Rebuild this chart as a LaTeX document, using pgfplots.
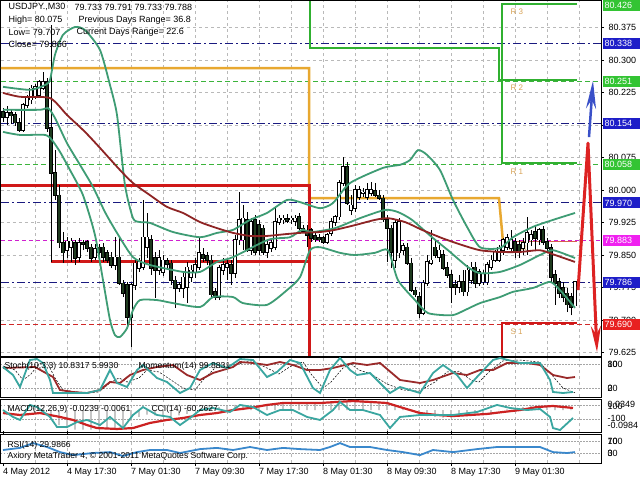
\documentclass[border=0pt]{standalone}
\usepackage{fontspec}
\setmainfont{Liberation Sans}
\usepackage{pgfplots}
\pgfplotsset{compat=1.18}
\usepackage{pgfplotstable}
\usetikzlibrary{arrows.meta}

\definecolor{navyl}{HTML}{1A1A80}
\definecolor{lvlgreen}{HTML}{3CB43C}
\definecolor{lvlmag}{HTML}{D020D0}
\definecolor{lvlred}{HTML}{D02828}
\definecolor{stepor}{HTML}{E8A830}
\definecolor{steppiv}{HTML}{D86050}
\definecolor{stepgreen}{HTML}{30B030}
\definecolor{stepred}{HTML}{D01818}
\definecolor{band}{HTML}{3E9C74}
\definecolor{ma}{HTML}{8E2424}
\definecolor{bear}{HTML}{1E3A1E}
\definecolor{stochc}{HTML}{3AA6A0}
\definecolor{momc}{HTML}{9A2A2A}
\definecolor{macdsig}{HTML}{CC2222}
\definecolor{rsiblue}{HTML}{3A88CC}
\definecolor{boxgreen}{HTML}{33C433}
\definecolor{boxblue}{HTML}{1E1EC8}
\definecolor{boxmag}{HTML}{F020F0}
\definecolor{boxred}{HTML}{E82020}
\definecolor{lbl}{HTML}{D8A458}
\definecolor{zzred}{HTML}{DD2222}
\definecolor{zzblue}{HTML}{3A50C8}

\pgfplotstableread{
n o h l c
0 80.180 80.189 80.157 80.168
1 80.168 80.194 80.150 80.178
2 80.178 80.185 80.152 80.171
3 80.173 80.180 80.148 80.155
4 80.155 80.166 80.134 80.138
5 80.138 80.201 80.134 80.196
6 80.196 80.219 80.189 80.212
7 80.208 80.242 80.198 80.235
8 80.217 80.245 80.210 80.238
9 80.219 80.254 80.215 80.249
10 80.235 80.272 80.231 80.249
11 80.249 80.258 80.134 80.143
12 80.143 80.381 79.834 80.039
13 80.039 80.092 79.977 79.988
14 79.988 80.011 79.866 79.878
15 79.878 79.903 79.831 79.855
16 79.861 79.891 79.843 79.882
17 79.868 79.889 79.834 79.882
18 79.878 79.885 79.827 79.843
19 79.845 79.889 79.834 79.878
20 79.878 79.885 79.861 79.875
21 79.880 79.885 79.857 79.866
22 79.868 79.875 79.834 79.843
23 79.845 79.875 79.838 79.864
24 79.868 79.875 79.850 79.857
25 79.868 79.878 79.834 79.845
26 79.855 79.861 79.831 79.838
27 79.845 79.857 79.820 79.827
28 79.827 79.891 79.815 79.845
29 79.845 79.891 79.781 79.785
30 79.785 79.792 79.753 79.762
31 79.781 79.788 79.688 79.707
32 79.707 79.785 79.638 79.781
33 79.781 79.843 79.769 79.831
34 79.820 79.843 79.811 79.834
35 79.822 79.977 79.815 79.891
36 79.868 79.947 79.843 79.891
37 79.885 79.896 79.804 79.820
38 79.843 79.857 79.751 79.815
39 79.815 79.861 79.804 79.843
40 79.811 79.850 79.801 79.838
41 79.836 79.843 79.820 79.829
42 79.831 79.838 79.781 79.792
43 79.792 79.801 79.728 79.774
44 79.774 79.788 79.765 79.781
45 79.774 79.811 79.751 79.799
46 79.776 79.834 79.739 79.822
47 79.799 79.827 79.788 79.815
48 79.811 79.843 79.797 79.827
49 79.822 79.891 79.815 79.855
50 79.850 79.866 79.834 79.843
51 79.848 79.857 79.827 79.838
52 79.838 79.850 79.751 79.758
53 79.765 79.774 79.746 79.753
54 79.753 79.827 79.746 79.820
55 79.815 79.843 79.804 79.827
56 79.822 79.843 79.792 79.829
57 79.827 79.838 79.781 79.808
58 79.808 79.896 79.797 79.885
59 79.885 79.995 79.873 79.931
60 79.885 79.965 79.861 79.935
61 79.931 79.949 79.857 79.861
62 79.861 79.935 79.850 79.926
63 79.931 79.942 79.850 79.857
64 79.919 79.931 79.850 79.861
65 79.912 79.919 79.850 79.857
66 79.857 79.885 79.843 79.873
67 79.866 79.885 79.857 79.878
68 79.868 79.958 79.861 79.926
69 79.926 79.942 79.919 79.935
70 79.931 79.942 79.921 79.935
71 79.933 79.945 79.924 79.928
72 79.931 79.940 79.921 79.935
73 79.928 79.942 79.917 79.935
74 79.938 79.947 79.908 79.912
75 79.912 79.919 79.901 79.905
76 79.903 79.919 79.868 79.896
77 79.908 79.912 79.880 79.889
78 79.894 79.901 79.880 79.885
79 79.889 79.898 79.880 79.885
80 79.889 79.894 79.875 79.880
81 79.880 79.901 79.875 79.896
82 79.901 79.935 79.894 79.926
83 79.926 79.942 79.917 79.938
84 79.938 80.023 79.931 80.016
85 80.016 80.076 80.009 80.053
86 80.053 80.065 79.965 79.970
87 79.954 79.988 79.942 79.965
88 79.958 80.011 79.949 80.000
89 79.984 80.009 79.977 80.000
90 79.993 80.005 79.984 79.995
91 79.984 80.016 79.977 80.000
92 79.993 80.018 79.986 80.000
93 79.998 80.016 79.984 79.988
94 79.988 80.000 79.977 79.981
95 79.981 79.988 79.926 79.931
96 79.931 79.942 79.834 79.912
97 79.912 79.919 79.820 79.857
98 79.838 79.931 79.820 79.924
99 79.855 79.935 79.843 79.926
100 79.861 79.878 79.850 79.871
101 79.868 79.878 79.827 79.831
102 79.831 79.843 79.765 79.769
103 79.769 79.776 79.753 79.758
104 79.753 79.765 79.705 79.716
105 79.716 79.792 79.711 79.785
106 79.785 79.850 79.778 79.834
107 79.831 79.908 79.827 79.838
108 79.868 79.885 79.843 79.850
109 79.845 79.873 79.834 79.861
110 79.850 79.861 79.815 79.820
111 79.820 79.834 79.797 79.804
112 79.804 79.815 79.739 79.776
113 79.781 79.792 79.758 79.776
114 79.776 79.804 79.762 79.788
115 79.788 79.815 79.755 79.765
116 79.765 79.827 79.755 79.815
117 79.792 79.834 79.783 79.822
118 79.822 79.834 79.774 79.785
119 79.785 79.818 79.778 79.811
120 79.788 79.815 79.781 79.806
121 79.788 79.834 79.781 79.827
122 79.822 79.850 79.815 79.838
123 79.838 79.861 79.834 79.857
124 79.838 79.873 79.834 79.868
125 79.861 79.889 79.850 79.885
126 79.868 79.898 79.861 79.889
127 79.866 79.908 79.857 79.885
128 79.880 79.889 79.843 79.857
129 79.873 79.885 79.843 79.855
130 79.866 79.889 79.850 79.878
131 79.878 79.938 79.850 79.901
132 79.885 79.908 79.871 79.896
133 79.903 79.919 79.861 79.889
134 79.885 79.912 79.873 79.908
135 79.908 79.917 79.873 79.880
136 79.880 79.889 79.857 79.866
137 79.866 79.875 79.788 79.799
138 79.804 79.815 79.735 79.785
139 79.788 79.797 79.751 79.762
140 79.774 79.788 79.741 79.753
141 79.762 79.774 79.718 79.735
142 79.753 79.762 79.711 79.730
143 79.733 79.791 79.733 79.788
}\candles

\pgfplotsset{
  mt/.style={
    scale only axis, width=600pt, xmin=-0.5, xmax=149.5,
    anchor=south west,
    axis line style={black, line width=1pt},
    xtick={8,16,...,144},
    xticklabels={,,},
    xmajorgrids,
    major grid style={draw=gray!55, dash pattern=on 3pt off 3pt, line width=0.6pt},
    xtick style={draw=none},
    tick align=outside, major tick length=3pt,
    ticklabel style={font=\fontsize{9}{10}\selectfont},
  },
  sub/.style={mt, ytick=\empty},
  dotlvl/.style={gray!70, line width=0.6pt, dash pattern=on 1.5pt off 1.5pt},
}
\tikzset{
  box/.style={anchor=west, xshift=1.5pt, fill=#1, text=white, inner xsep=2pt, inner ysep=0pt,
    minimum height=11pt, text width=34pt, align=left, font=\fontsize{9}{10}\selectfont},
}

\begin{document}
\begin{tikzpicture}[font=\fontsize{9}{10}\selectfont]
\fill[white] (0,0) rectangle (640pt,480pt);

% ---------------- main price panel ----------------
\begin{axis}[mt, at={(1pt,124pt)}, height=355pt,
  ymin=79.617, ymax=80.436,
  ytick={79.625,79.7,79.775,79.85,79.925,80,80.075,80.15,80.225,80.3,80.375},
  ymajorgrids, ytick pos=right, yticklabel pos=right, scaled y ticks=false,
  ytick style={black, line width=0.6pt},
  yticklabel style={/pgf/number format/fixed, /pgf/number format/fixed zerofill,
    /pgf/number format/precision=3, /pgf/number format/assume math mode=true, xshift=1pt},
]
% level lines
\addplot[navyl, line width=1pt, dash pattern=on 8pt off 3pt on 2pt off 3pt] coordinates {(-0.5,80.338) (149.5,80.338)};
\addplot[navyl, line width=1pt, dash pattern=on 8pt off 3pt on 2pt off 3pt] coordinates {(-0.5,80.154) (149.5,80.154)};
\addplot[navyl, line width=1pt, dash pattern=on 8pt off 3pt on 2pt off 3pt] coordinates {(-0.5,79.970) (149.5,79.970)};
\addplot[navyl, line width=1pt, dash pattern=on 8pt off 3pt on 2pt off 3pt] coordinates {(-0.5,79.786) (149.5,79.786)};
\addplot[lvlgreen, line width=1pt, dash pattern=on 5pt off 3pt] coordinates {(-0.5,80.251) (149.5,80.251)};
\addplot[lvlgreen, line width=1pt, dash pattern=on 5pt off 3pt] coordinates {(-0.5,80.058) (149.5,80.058)};
\addplot[lvlmag, line width=0.8pt, dash pattern=on 4pt off 3pt] coordinates {(-0.5,79.883) (149.5,79.883)};
\addplot[lvlred, line width=0.9pt, dash pattern=on 5pt off 3pt] coordinates {(-0.5,79.690) (149.5,79.690)};

% pivot step lines
\addplot[stepor, line width=2.5pt] coordinates {(-0.5,80.281) (76.5,80.281) (76.5,79.981) (124,79.981) (125,79.880)};
\addplot[steppiv, line width=1pt] coordinates {(125,79.880) (143.5,79.880)};
\addplot[stepgreen, line width=1.8pt] coordinates {(76.75,80.436) (76.75,80.328) (124,80.328) (124,80.254) (143.5,80.254)};
\addplot[stepgreen, line width=1.8pt] coordinates {(143.5,80.429) (124.75,80.429) (124.75,80.062) (143.5,80.062)};
\addplot[stepred, line width=3pt] coordinates {(-0.5,80.011) (76.5,80.011) (76.5,79.617)};
\addplot[stepred, line width=3pt] coordinates {(12,79.834) (76.5,79.834)};
\addplot[stepred, line width=2pt] coordinates {(124.75,79.617) (124.75,79.693) (143.5,79.693)};

\node[lbl, anchor=west, font=\fontsize{8}{9}\selectfont] at (axis cs:126,80.411) {R 3};
\node[lbl, anchor=west, font=\fontsize{8}{9}\selectfont] at (axis cs:126,80.235) {R 2};
\node[lbl, anchor=west, font=\fontsize{8}{9}\selectfont] at (axis cs:126,80.042) {R 1};
\node[lbl, anchor=west, font=\fontsize{8}{9}\selectfont] at (axis cs:126,79.672) {S 1};
\node[lbl, anchor=west, font=\fontsize{8}{9}\selectfont] at (axis cs:125.5,79.866) {Pivot};

% candles
\addplot[black, line width=0.9pt, quiver={u=0, v={\thisrow{h}-\thisrow{l}}}] table[x=n, y=l] {\candles};
\addplot[black, line width=3.4pt, quiver={u=0, v={\thisrow{c}-\thisrow{o}+0.0028}},
  y filter/.expression={\thisrow{c}>=\thisrow{o} ? y : nan}] table[x=n, y expr=\thisrow{o}-0.0014] {\candles};
\addplot[white, line width=2pt, quiver={u=0, v={\thisrow{c}-\thisrow{o}}},
  y filter/.expression={\thisrow{c}>=\thisrow{o} ? y : nan}] table[x=n, y=o] {\candles};
\addplot[black, line width=3.4pt, quiver={u=0, v={\thisrow{c}-\thisrow{o}-0.0028}},
  y filter/.expression={\thisrow{c}<\thisrow{o} ? y : nan}] table[x=n, y expr=\thisrow{o}+0.0014] {\candles};
\addplot[bear, line width=2pt, quiver={u=0, v={\thisrow{c}-\thisrow{o}}},
  y filter/.expression={\thisrow{c}<\thisrow{o} ? y : nan}] table[x=n, y=o] {\candles};

% Bollinger bands
\addplot[band, line width=1.8pt, smooth, tension=0.4] coordinates {
(0,80.238) (6.75,80.231) (10.5,80.242) (11.75,80.254) (13,80.312) (15,80.358) (18,80.376) (20.5,80.369)
(24.25,80.323) (26.75,80.242) (28.5,80.173) (30.5,80.011) (32.5,79.935) (34.25,79.926) (36.75,79.924)
(42.5,79.903) (49.25,79.891) (53.5,79.901) (57.5,79.908) (61.75,79.931) (66,79.947) (71,79.977)
(74.25,79.972) (79.25,79.958) (82.5,79.970) (86.75,80.016) (95,80.051) (99.25,80.058) (101.75,80.069)
(103.75,80.092) (106,80.081) (109.25,80.046) (112.5,79.977) (116,79.915) (119.25,79.868) (124.25,79.866)
(127.5,79.891) (132.5,79.915) (137.5,79.931) (143,79.947)};
\addplot[band, line width=1.8pt, smooth, tension=0.4] coordinates {
(0,80.185) (9.25,80.185) (11.25,80.189) (13,80.166) (16,80.108) (19.25,80.058) (22.5,80.007) (25.5,79.949)
(28.5,79.901) (32.5,79.845) (36.75,79.827) (45,79.811) (49.25,79.811) (53.5,79.834) (57.5,79.845)
(66.25,79.885) (71.75,79.891) (74.75,79.908) (77.25,79.903) (83,79.912) (89.25,79.935) (95.5,79.954)
(98.75,79.949) (102.25,79.931) (107.25,79.891) (111.25,79.861) (116.25,79.822) (119.25,79.808)
(124.25,79.811) (129.25,79.827) (134.25,79.850) (137.5,79.861) (143,79.843)};
\addplot[band, line width=1.8pt, smooth, tension=0.4] coordinates {
(0,80.134) (4.25,80.127) (10.5,80.127) (12.25,80.115) (14.25,80.088) (16.75,80.046) (20,79.988) (23,79.896)
(25,79.792) (26.75,79.700) (28,79.665) (29.25,79.661) (31,79.681) (32.5,79.723) (34.25,79.746) (38.5,79.746)
(42.5,79.739) (49.25,79.730) (52.5,79.753) (57.5,79.753) (60,79.739) (66,79.735) (71,79.769) (74.25,79.799)
(76.75,79.861) (79.25,79.868) (84.25,79.855) (88,79.850) (93,79.855) (96.25,79.861) (98.75,79.792)
(103,79.746) (106.25,79.716) (112.25,79.711) (115.5,79.723) (119.25,79.739) (124.25,79.753) (127.5,79.765)
(132.5,79.774) (136.75,79.788) (139.25,79.769) (143,79.728)};
% moving average
\addplot[ma, line width=1.8pt, smooth, tension=0.4] coordinates {
(0,80.224) (4.25,80.215) (11.75,80.212) (16,80.173) (20.5,80.134) (24.25,80.097) (29.25,80.046) (32.5,80.016)
(36.75,79.988) (41,79.961) (45,79.947) (49.25,79.926) (53.5,79.912) (57.5,79.901) (61.75,79.894) (66,79.894)
(70.5,79.898) (74.25,79.901) (79.25,79.903) (83,79.908) (88,79.919) (93,79.931) (96.25,79.935) (100.5,79.926)
(104.75,79.908) (109.75,79.889) (114.75,79.873) (119.25,79.861) (124.25,79.857) (129.25,79.857)
(134.25,79.861) (138,79.850) (143,79.834)};

% zigzag arrows
\addplot[zzred, line width=3pt, line join=round, -{Stealth[length=26pt, width=10pt]}] coordinates {(143.75,79.769) (146.25,80.108) (148.5,79.626)};
\addplot[zzblue, line width=2.5pt, -{Stealth[length=28pt, width=10pt]}] coordinates {(146.5,80.122) (147.5,80.252)};

\coordinate (b426) at (axis cs:149.5,80.426);
\coordinate (b338) at (axis cs:149.5,80.338);
\coordinate (b251) at (axis cs:149.5,80.251);
\coordinate (b154) at (axis cs:149.5,80.154);
\coordinate (b058) at (axis cs:149.5,80.058);
\coordinate (b970) at (axis cs:149.5,79.970);
\coordinate (b883) at (axis cs:149.5,79.883);
\coordinate (b786) at (axis cs:149.5,79.786);
\coordinate (b690) at (axis cs:149.5,79.690);
\end{axis}

% price boxes
\node[box=boxgreen] at (b426) {80.426};
\node[box=boxblue] at (b338) {80.338};
\node[box=boxgreen] at (b251) {80.251};
\node[box=boxblue] at (b154) {80.154};
\node[box=boxgreen] at (b058) {80.058};
\node[box=boxblue] at (b970) {79.970};
\node[box=boxmag] at (b883) {79.883};
\node[box=boxblue] at (b786) {79.786};
\node[box=boxred] at (b690) {79.690};

% ---------------- Stochastic / Momentum ----------------
\begin{axis}[sub, at={(1pt,83pt)}, height=40pt, ymin=-2.5, ymax=97.5]
\addplot[dotlvl] coordinates {(-0.5,80) (149.5,80)};
\addplot[dotlvl] coordinates {(-0.5,20) (149.5,20)};
\addplot[black, line width=0.5pt, dash pattern=on 2pt off 1.5pt] coordinates {
(0,75) (3,65) (5,40) (7,55) (9,80) (11,85) (13,45) (15,15) (20,8) (24,10) (27,35) (29,45) (31,35) (34,45)
(36,65) (39,60) (42,40) (45,20) (48,15) (50,40) (53,70) (56,75) (59,80) (62,88) (66,70) (69,55) (72,75)
(75,85) (77,55) (80,20) (82,35) (85,70) (87,80) (89,65) (92,55) (96,30) (100,15) (104,12) (108,35) (111,60)
(114,62) (117,40) (119,35) (122,65) (125,88) (129,90) (134,85) (137,55) (140,20) (143,8)};
\addplot[momc, line width=1.8pt] coordinates {
(0,70) (8,72.5) (12.5,47.5) (14.25,15) (17.5,10) (21,7.5) (24.25,15) (26.75,35) (29.25,32.5) (31.75,52.5)
(35,65) (38.5,72.5) (42.5,77.5) (46,52.5) (49.25,40) (52.5,57.5) (57.5,72.5) (59.25,85) (62.5,82.5) (66,77.5)
(69.25,85) (72.5,77.5) (76,65) (79.25,65) (82.5,70) (87.5,82.5) (91,77.5) (94.25,82.5) (99.25,40) (104.25,32.5)
(107.5,40) (112.5,57.5) (116,52.5) (119.25,65) (122.5,65) (126,82.5) (131,82.5) (134.25,77.5) (137.5,52.5)
(141,45) (143,47.5)};
\addplot[stochc, line width=1.8pt] coordinates {
(0,72.5) (2.5,52.5) (4.25,22.5) (6.75,90) (8.5,92.5) (10,82.5) (11.75,40) (12.5,7.5) (16,7.5) (21,7.5)
(24.25,15) (26.75,65) (28.5,32.5) (31,22.5) (33.5,65) (35,77.5) (38.5,45) (41,35) (44.25,7.5) (46.75,20)
(49.25,65) (52.5,82.5) (56,70) (59.25,92.5) (62.5,90) (66,47.5) (68.5,60) (71.75,90) (74.25,82.5) (77.5,20)
(79.25,7.5) (81.75,65) (84.25,95) (86.75,65) (88.5,52.5) (91.75,57.5) (96.75,7.5) (99.25,22.5) (104.25,7.5)
(107.5,57.5) (110,77.5) (113.5,52.5) (116,20) (118.5,47.5) (122.5,90) (124.25,95) (129.25,82.5)
(134.25,82.5) (136.75,40) (137.5,10) (140,7.5) (142.5,10)};
\end{axis}

% ---------------- MACD / CCI ----------------
\begin{axis}[sub, at={(1pt,48pt)}, height=33pt, ymin=-0.1453, ymax=0.0746]
\addplot[ybar, bar width=1.8pt, fill=gray!45, draw=none] coordinates {
(0,0.002) (2,-0.005) (4,-0.01) (6,0.005) (8,0.015) (10,0.01) (12,-0.05) (14,-0.10) (16,-0.12) (18,-0.13)
(20,-0.13) (22,-0.13) (24,-0.13) (26,-0.125) (28,-0.125) (30,-0.12) (32,-0.07) (34,-0.045) (36,-0.03)
(38,-0.035) (40,-0.045) (42,-0.05) (44,-0.035) (46,-0.025) (48,-0.005) (50,0.005) (52,0.015) (54,0.02)
(56,0.03) (58,0.035) (60,0.035) (62,0.035) (64,0.035) (66,0.038) (68,0.04) (70,0.04) (72,0.04) (74,0.04)
(76,0.042) (78,0.045) (80,0.048) (82,0.055) (84,0.068) (86,0.07) (88,0.068) (90,0.065) (92,0.06) (94,0.055)
(96,0.045) (98,0.035) (100,0.02) (102,0.002) (104,-0.02) (106,-0.04) (108,-0.045) (110,-0.05) (112,-0.05)
(114,-0.045) (116,-0.04) (118,-0.035) (120,-0.03) (122,-0.03) (124,0.002) (126,0.005) (128,0.012) (130,0.02)
(132,0.03) (134,0.035) (136,0.033) (138,0.028) (140,0.02) (142,0.005)};
\addplot[dotlvl] coordinates {(-0.5,0.0347) (149.5,0.0347)};
\addplot[dotlvl] coordinates {(-0.5,-0.0587) (149.5,-0.0587)};
\addplot[macdsig, line width=2.2pt] coordinates {
(0,-0.019) (4.25,-0.032) (9.25,-0.019) (14.25,-0.045) (17.5,-0.065) (21,-0.099) (23.5,-0.119) (28.5,-0.125)
(32.5,-0.119) (36.75,-0.085) (41,-0.065) (45,-0.052) (49.25,-0.032) (53.5,-0.019) (57.5,0.001) (61.75,0.015)
(66,0.035) (70,0.048) (74.25,0.048) (79.25,0.048) (83.5,0.055) (87.5,0.061) (91.75,0.055) (96,0.048)
(100,0.015) (104.25,-0.019) (108.5,-0.032) (112.5,-0.039) (116.75,-0.032) (121,-0.025) (125,-0.012)
(129.25,0.001) (133.5,0.021) (137.5,0.028) (142.5,0.015)};
\addplot[stochc, line width=1.8pt] coordinates {
(0,0.001) (2.5,-0.045) (4.25,-0.065) (6.75,0.035) (8.5,0.021) (11.75,-0.045) (13.5,-0.112) (16,-0.112)
(18.5,-0.079) (21,-0.065) (24.25,-0.099) (26.75,-0.045) (30,-0.119) (32.5,-0.032) (35,0.021) (38.5,-0.032)
(41.75,-0.045) (44.25,-0.099) (46.75,-0.052) (49.25,0.001) (52.5,0.015) (56.75,-0.012) (59.25,0.035)
(62.5,0.021) (66,-0.032) (69.25,0.001) (72.5,0.001) (76,-0.045) (79.25,-0.065) (82.5,0.001) (84.25,0.055)
(86.75,0.001) (90,0.001) (94.25,-0.032) (96.75,-0.119) (99.25,-0.045) (104.25,-0.032) (109.25,-0.032)
(112.5,-0.032) (118.5,-0.012) (123.5,0.035) (126.75,0.015) (131,0.001) (134.25,0.008) (136.75,-0.045)
(137.5,-0.119) (139.25,-0.132) (142.5,-0.052)};
\end{axis}

% ---------------- RSI ----------------
\begin{axis}[sub, at={(1pt,17pt)}, height=29pt, ymin=-3.3, ymax=93.3,
  xtick={0,16,...,128}, xmajorgrids=false,
  xticklabels={4 May 2012, 4 May 17:30, 7 May 01:30, 7 May 09:30, 7 May 17:30, 8 May 01:30, 8 May 09:30, 8 May 17:30, 9 May 01:30},
  xticklabel style={anchor=north west, inner sep=1pt, xshift=-1pt, yshift=-1pt},
  xtick style={draw=black, line width=0.6pt}, major tick length=3pt,
  extra x ticks={8,16,...,144}, extra x tick labels={,,},
  extra x tick style={xmajorgrids=true, major tick length=0pt},
]
\addplot[dotlvl] coordinates {(-0.5,70) (149.5,70)};
\addplot[dotlvl] coordinates {(-0.5,30) (149.5,30)};
\addplot[rsiblue, line width=1.8pt] coordinates {
(0,40) (4.25,47) (7.5,63) (11,50) (14.25,33) (17.5,23) (22.5,30) (26.75,33) (30,20) (33.5,33) (36.75,40)
(41,40) (44.25,30) (49.25,43) (53.5,47) (57.5,40) (61.75,50) (66,40) (70,47) (74.25,43) (79.25,40) (81.75,50)
(84.25,63) (86.75,50) (91.75,50) (96,40) (100,33) (104.25,23) (107.5,40) (112.5,33) (118.5,43) (123.5,50)
(129.25,50) (134.25,50) (137.5,33) (141,30) (143,33)};
\end{axis}

% ---------------- texts ----------------
\node[anchor=west] at (5pt,473pt) {USDJPY.,M30};
\node[anchor=west] at (71pt,473pt) {79.733 79.791 79.733 79.788};
\node[anchor=west] at (5pt,460pt) {High= 80.075};
\node[anchor=west] at (75pt,460pt) {Previous Days Range= 36.8};
\node[anchor=west] at (5pt,448pt) {Low= 79.707};
\node[anchor=west] at (73pt,448pt) {Current Days Range= 22.6};
\node[anchor=west] at (5pt,436pt) {Close= 79.866};

\begin{scope}[font=\fontsize{8.6}{10}\selectfont]
\node[anchor=west] at (1pt,113.5pt) {Stoch(10,3,3) 10.8317 5.9930};
\node[anchor=west] at (135pt,113.5pt) {Momentum(14) 99.8831};
\node[anchor=west] at (4pt,70.7pt) {MACD(12,26,9) -0.0239 -0.0061};
\node[anchor=west] at (148pt,70.7pt) {CCI(14) -60.2627};
\node[anchor=west] at (4pt,35pt) {RSI(14) 29.9866};
\node[anchor=west] at (4pt,24pt) {Axiory MetaTrader 4, © 2001-2011 MetaQuotes Software Corp.};
\end{scope}

\node[anchor=west] at (604pt,116pt) {100};
\node[anchor=west] at (604pt,116pt) {80};
\node[anchor=west] at (604pt,92pt) {20};
\node[anchor=west] at (604pt,92pt) {0};
\node[anchor=west] at (604pt,76pt) {0.0349};
\node[anchor=west] at (604pt,74pt) {100};
\node[anchor=west] at (604pt,62pt) {-100};
\node[anchor=west] at (604pt,55pt) {-0.0984};
\node[anchor=west] at (604pt,39pt) {100};
\node[anchor=west] at (604pt,39pt) {70};
\node[anchor=west] at (604pt,27pt) {30};
\node[anchor=west] at (604pt,27pt) {0};

\pgfresetboundingbox
\path[use as bounding box] (0,0) rectangle (640pt,480pt);
\end{tikzpicture}
\end{document}
